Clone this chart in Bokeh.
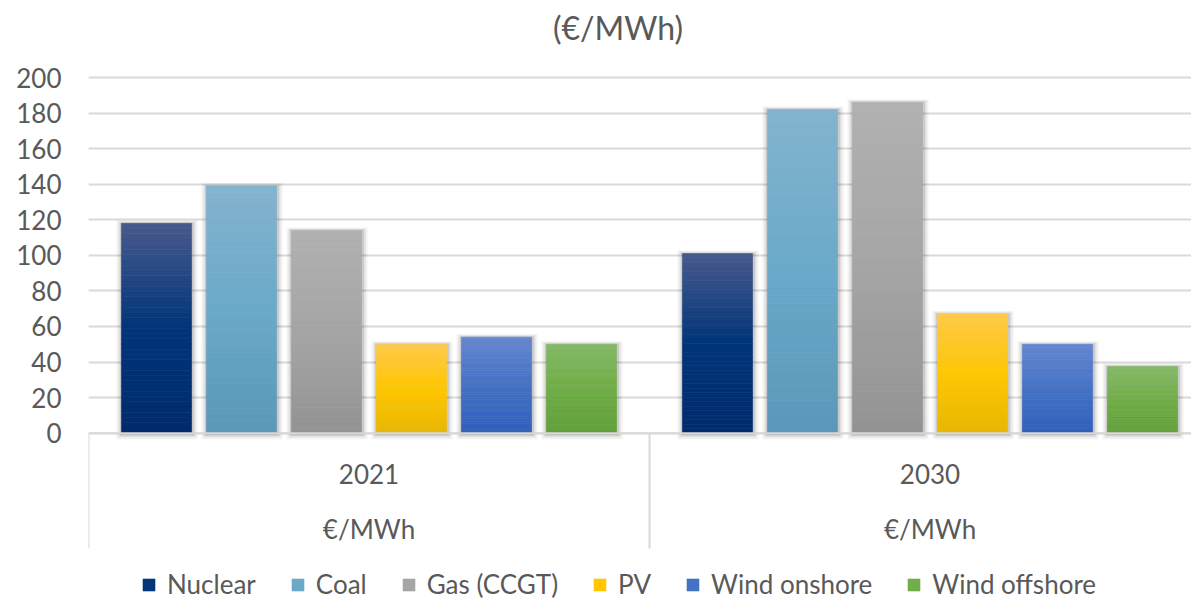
import numpy as np
from bokeh.plotting import figure
from bokeh.models import ColumnDataSource, FixedTicker, Legend, LegendItem, Range1d, Label
from bokeh.core.properties import value
from bokeh.embed import file_html
from bokeh.resources import INLINE

# ---------------- data ----------------
title_text = "(€/MWh)"
years = ["2021", "2030"]
unit_label = "€/MWh"
techs = ["Nuclear", "Coal", "Gas (CCGT)", "PV", "Wind onshore", "Wind offshore"]
nuclear = [118, 101]
coal = [139, 182]
gas = [114, 186]
pv = [50, 67]
wind_onshore = [54, 50]
wind_offshore = [50, 37.5]
y_ticks = [0, 20, 40, 60, 80, 100, 120, 140, 160, 180, 200]

series = [nuclear, coal, gas, pv, wind_onshore, wind_offshore]

# gradient stops per series: (bottom, middle, top)
grad = [
    ("#002b6d", "#003479", "#485a8c"),
    ("#5a97b8", "#6aa9c9", "#83b3cf"),
    ("#939393", "#a5a5a5", "#b1b1b1"),
    ("#e8b600", "#ffc700", "#ffc94a"),
    ("#2f5fbb", "#4472c4", "#6586d0"),
    ("#60a03a", "#70ad47", "#85b866"),
]

FONT = "Lato"
TXT = "#595959"
GRID = "#d9d9d9"

# ---------------- geometry ----------------
group_w = 6.6
bar_w = 0.824
x_end = 12.976
y_start, y_end = -94.07, 243.3
px_x = 1 / 85.0
px_y = 1 / 1.7785


def h2r(h):
    h = h.lstrip("#")
    return np.array([int(h[i:i + 2], 16) for i in (0, 2, 4)], dtype=float)


def r2h(c):
    c = np.clip(np.round(c), 0, 255).astype(int)
    return "#%02x%02x%02x" % tuple(c)


def grad_color(stops, t):
    b, m, t_ = (h2r(s) for s in stops)
    if t <= 0.5:
        return r2h(b + (m - b) * (t / 0.5))
    return r2h(m + (t_ - m) * ((t - 0.5) / 0.5))


p = figure(width=1191, height=600, output_backend="svg", toolbar_location=None,
           x_range=Range1d(0, x_end), y_range=Range1d(y_start, y_end),
           min_border_left=88, min_border_right=0, min_border_top=0,
           min_border_bottom=0)
p.outline_line_color = None
p.background_fill_color = "white"
p.xaxis.visible = False
p.xgrid.visible = False

p.yaxis.ticker = FixedTicker(ticks=y_ticks)
p.yaxis.axis_line_color = None
p.yaxis.major_tick_line_color = None
p.yaxis.minor_tick_line_color = None
p.yaxis.major_tick_out = 0
p.yaxis.major_label_standoff = 27
p.yaxis.major_label_text_font = FONT
p.yaxis.major_label_text_font_size = "26px"
p.yaxis.major_label_text_color = TXT
p.ygrid.ticker = FixedTicker(ticks=y_ticks)
p.ygrid.grid_line_color = GRID
p.ygrid.grid_line_width = 2

# chart title
p.add_layout(Label(x=6.229, y=228.1, text=title_text, text_align="center",
                   text_baseline="middle", text_font=FONT,
                   text_font_size="32px", text_color=TXT))

# group separators below the axis
sep_x = [g * group_w for g in range(len(years) + 1)]
p.segment(x0=sep_x, x1=sep_x, y0=[0] * len(sep_x), y1=[-64.8] * len(sep_x),
          line_color=GRID, line_width=2)

N = 40
items = []
for si, (name, vals) in enumerate(zip(techs, series)):
    centers = [g * group_w + group_w / 2 + (si - 2.5) for g in range(len(years))]
    # soft shadow
    for exp, alpha in ((5, 0.05), (3, 0.07), (1.5, 0.09)):
        p.quad(left=[c - bar_w / 2 - exp * px_x for c in centers],
               right=[c + bar_w / 2 + (exp + 1) * px_x for c in centers],
               bottom=[-(exp + 1) * px_y for _ in vals],
               top=[v + exp * px_y * 0.6 for v in vals],
               fill_color="black", fill_alpha=alpha, line_color=None)
    L, R, B, T, C = [], [], [], [], []
    for c, v in zip(centers, vals):
        for k in range(N):
            L.append(c - bar_w / 2)
            R.append(c + bar_w / 2)
            B.append(v * k / N)
            T.append(v * (k + 1) / N)
            C.append(grad_color(grad[si], (k + 0.5) / N))
    src = ColumnDataSource(dict(left=L, right=R, bottom=B, top=T, color=C))
    r = p.quad(left="left", right="right", bottom="bottom", top="top",
               fill_color="color", line_color="color", line_width=0.6, source=src)
    items.append(LegendItem(label=name, renderers=[r], index=N // 2))

# axis line at zero
p.segment(x0=[0], x1=[x_end], y0=[0], y1=[0], line_color=GRID, line_width=2)

# category labels
lab_x = [g * group_w + group_w / 2 for g in range(len(years))]
p.text(x=lab_x, y=[-22.9] * len(years), text=years, text_align="center",
       text_baseline="middle", text_font=value(FONT), text_font_size="26px",
       text_color=TXT)
p.text(x=lab_x, y=[-53.6] * len(years), text=[unit_label] * len(years),
       text_align="center", text_baseline="middle", text_font=value(FONT),
       text_font_size="26px", text_color=TXT)

legend = Legend(items=items, orientation="horizontal", location=(53, 0))
legend.background_fill_alpha = 0
legend.border_line_alpha = 0
legend.padding = 0
legend.margin = 0
legend.spacing = 34
legend.label_standoff = 11
legend.glyph_width = 15
legend.glyph_height = 15
legend.label_text_font = FONT
legend.label_text_font_size = "26px"
legend.label_text_color = TXT
p.add_layout(legend)

open("out.html", "w").write(file_html(p, INLINE))
